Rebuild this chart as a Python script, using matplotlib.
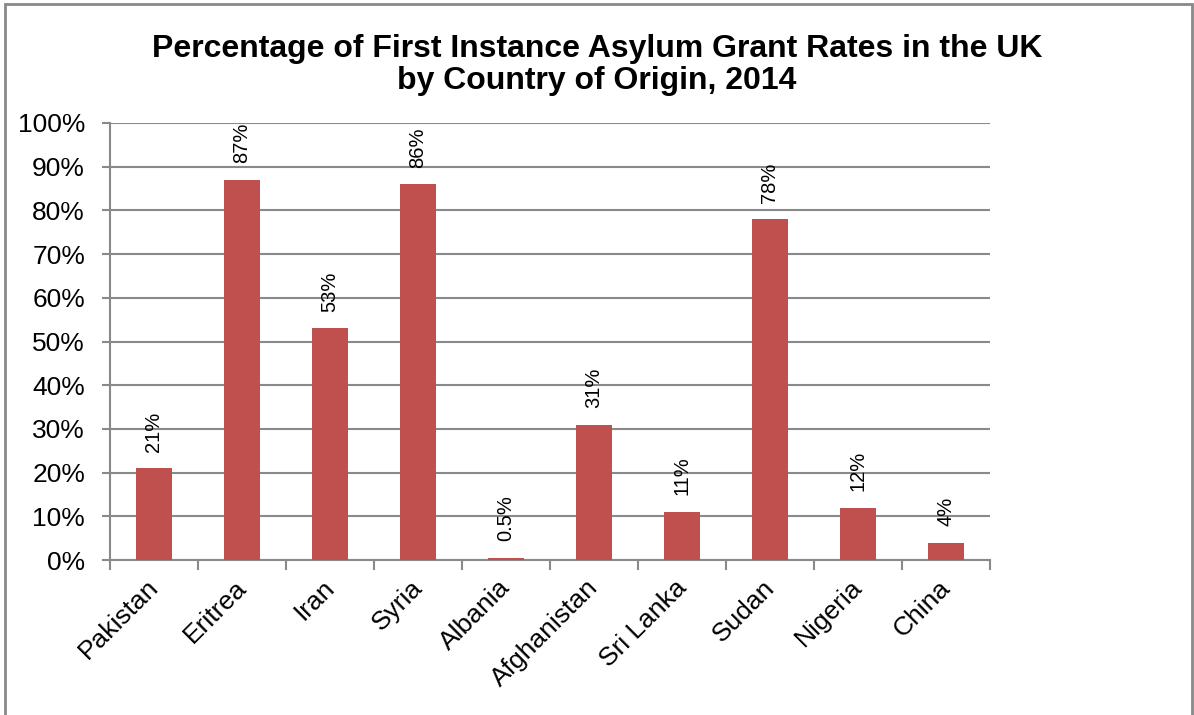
import numpy as np
import matplotlib.pyplot as plt
from matplotlib.patches import Rectangle
import matplotlib.transforms as mtransforms

countries = ["Pakistan", "Eritrea", "Iran", "Syria", "Albania",
             "Afghanistan", "Sri Lanka", "Sudan", "Nigeria", "China"]
rates = [21, 87, 53, 86, 0.5, 31, 11, 78, 12, 4]
labels = ["21%", "87%", "53%", "86%", "0.5%", "31%", "11%", "78%", "12%", "4%"]

plt.rcParams["font.family"] = ["Liberation Sans", "DejaVu Sans"]
grey = "#898989"
red = "#C0504D"

fig = plt.figure(figsize=(11.94, 7.15), dpi=100)
ax = fig.add_axes([110 / 1194, 1 - 560 / 715, 880 / 1194, 437 / 715])

# outer frame of the chart area
fig.patches.append(Rectangle((5 / 1194, -0.1), 1187 / 1194, 1.1 - 4 / 715,
                             transform=fig.transFigure, fill=False,
                             edgecolor=grey, linewidth=2))

x = np.arange(len(countries))
ax.bar(x, rates, width=0.4, color=red, zorder=3)
for xi, v, t in zip(x, rates, labels):
    ax.text(xi, v + 3.8, t, rotation=90, ha="center", va="bottom", fontsize=14.5)

ax.set_xlim(-0.5, len(countries) - 0.5)
ax.set_ylim(0, 100)
ax.set_yticks(np.arange(0, 101, 10))
ax.set_yticklabels([f"{v}%" for v in range(0, 101, 10)], fontsize=19)
ax.yaxis.grid(True, color=grey, linewidth=1.5, zorder=0)
ax.tick_params(axis="y", length=6, width=1.5, color=grey, pad=12)

ax.set_xticks(x)
ax.set_xticklabels(countries, rotation=45, ha="right", rotation_mode="anchor", fontsize=19)
ax.tick_params(axis="x", which="major", length=0, pad=11)
shift = mtransforms.ScaledTranslation(-8 / 100, 0, fig.dpi_scale_trans)
for lbl in ax.get_xticklabels():
    lbl.set_transform(lbl.get_transform() + shift)
ax.set_xticks(np.arange(-0.5, len(countries)), minor=True)
ax.tick_params(axis="x", which="minor", length=7, width=1.5, color=grey)

for s in ["top", "right"]:
    ax.spines[s].set_visible(False)
for s in ["left", "bottom"]:
    ax.spines[s].set_color(grey)
    ax.spines[s].set_linewidth(1.5)

fig.text(597 / 1194, 1 - 65 / 715,
         "Percentage of First Instance Asylum Grant Rates in the UK\nby Country of Origin, 2014",
         ha="center", va="center", fontsize=23, fontweight="bold", linespacing=1.1)

fig.savefig("out.png", dpi=100, facecolor="white")
